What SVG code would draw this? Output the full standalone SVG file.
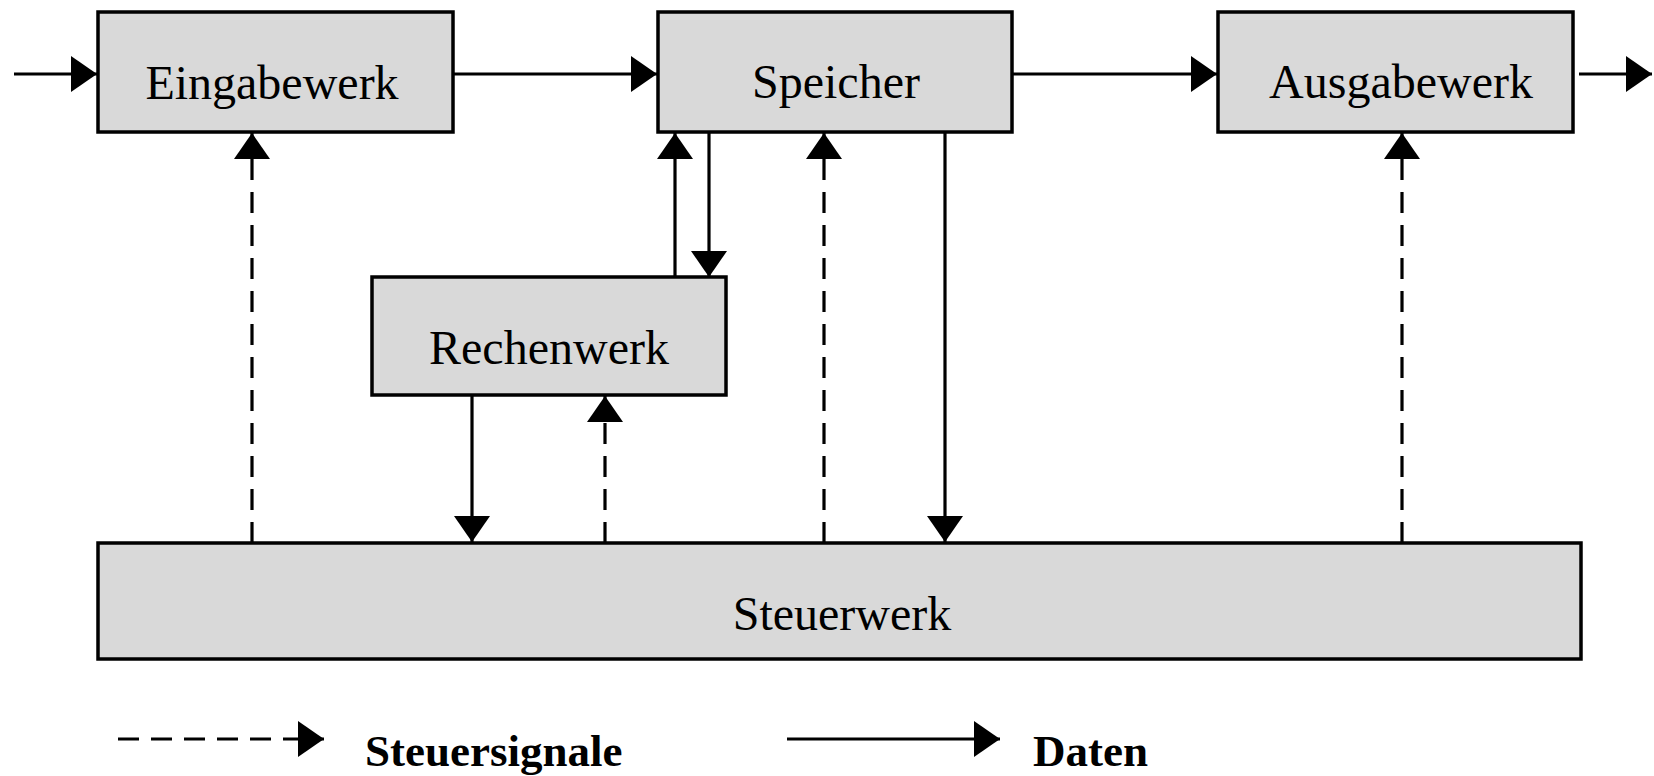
<svg xmlns="http://www.w3.org/2000/svg" width="1654" height="776" viewBox="0 0 1654 776">
<style>
.box{fill:#d9d9d9;stroke:#000;stroke-width:3.5}
.lbl{font-family:"Liberation Serif","Times New Roman",serif;font-size:48px;fill:#000;text-anchor:middle}
.leg{font-family:"Liberation Serif","Times New Roman",serif;font-size:45px;font-weight:bold;fill:#000}
.sol{stroke:#000;stroke-width:3.2;fill:none;marker-end:url(#ah)}
.dash{stroke:#000;stroke-width:3.2;fill:none;stroke-dasharray:21 12;marker-end:url(#ah)}
</style>
<defs>
<marker id="ah" markerUnits="userSpaceOnUse" markerWidth="26" markerHeight="36" refX="26" refY="18" orient="auto" viewBox="0 0 26 36">
<path d="M0,0 L26,18 L0,36 Z" fill="#000" stroke="none"/>
</marker>
</defs>
<rect width="1654" height="776" fill="#fff"/>
<g id="connectors">
<line class="sol" x1="14" y1="74" x2="97" y2="74"/>
<line class="sol" x1="453" y1="74" x2="657" y2="74"/>
<line class="sol" x1="1012" y1="74" x2="1217" y2="74"/>
<line class="sol" x1="1579" y1="74" x2="1652" y2="74"/>
<line class="dash" x1="252" y1="543" x2="252" y2="133"/>
<line class="dash" x1="605" y1="543" x2="605" y2="396"/>
<line class="dash" x1="824" y1="543" x2="824" y2="133"/>
<line class="dash" x1="1402" y1="543" x2="1402" y2="133"/>
<line class="sol" x1="675" y1="277" x2="675" y2="133"/>
<line class="sol" x1="709" y1="132" x2="709" y2="277"/>
<line class="sol" x1="472" y1="395" x2="472" y2="542"/>
<line class="sol" x1="945" y1="132" x2="945" y2="542"/>
</g>
<g id="eingabewerk">
<rect class="box" x="98" y="12" width="355" height="120"/>
<text class="lbl" x="272" y="99">Eingabewerk</text>
</g>
<g id="speicher">
<rect class="box" x="658" y="12" width="354" height="120"/>
<text class="lbl" x="836" y="98">Speicher</text>
</g>
<g id="ausgabewerk">
<rect class="box" x="1218" y="12" width="355" height="120"/>
<text class="lbl" x="1401" y="98">Ausgabewerk</text>
</g>
<g id="rechenwerk">
<rect class="box" x="372" y="277" width="354" height="118"/>
<text class="lbl" x="549" y="364">Rechenwerk</text>
</g>
<g id="steuerwerk">
<rect class="box" x="98" y="543" width="1483" height="116"/>
<text class="lbl" x="842" y="630">Steuerwerk</text>
</g>
<g id="legend">
<line class="dash" x1="118" y1="739" x2="324" y2="739"/>
<text class="leg" x="365" y="766">Steuersignale</text>
<line class="sol" x1="787" y1="739" x2="1000" y2="739"/>
<text class="leg" x="1033" y="766">Daten</text>
</g>
</svg>
